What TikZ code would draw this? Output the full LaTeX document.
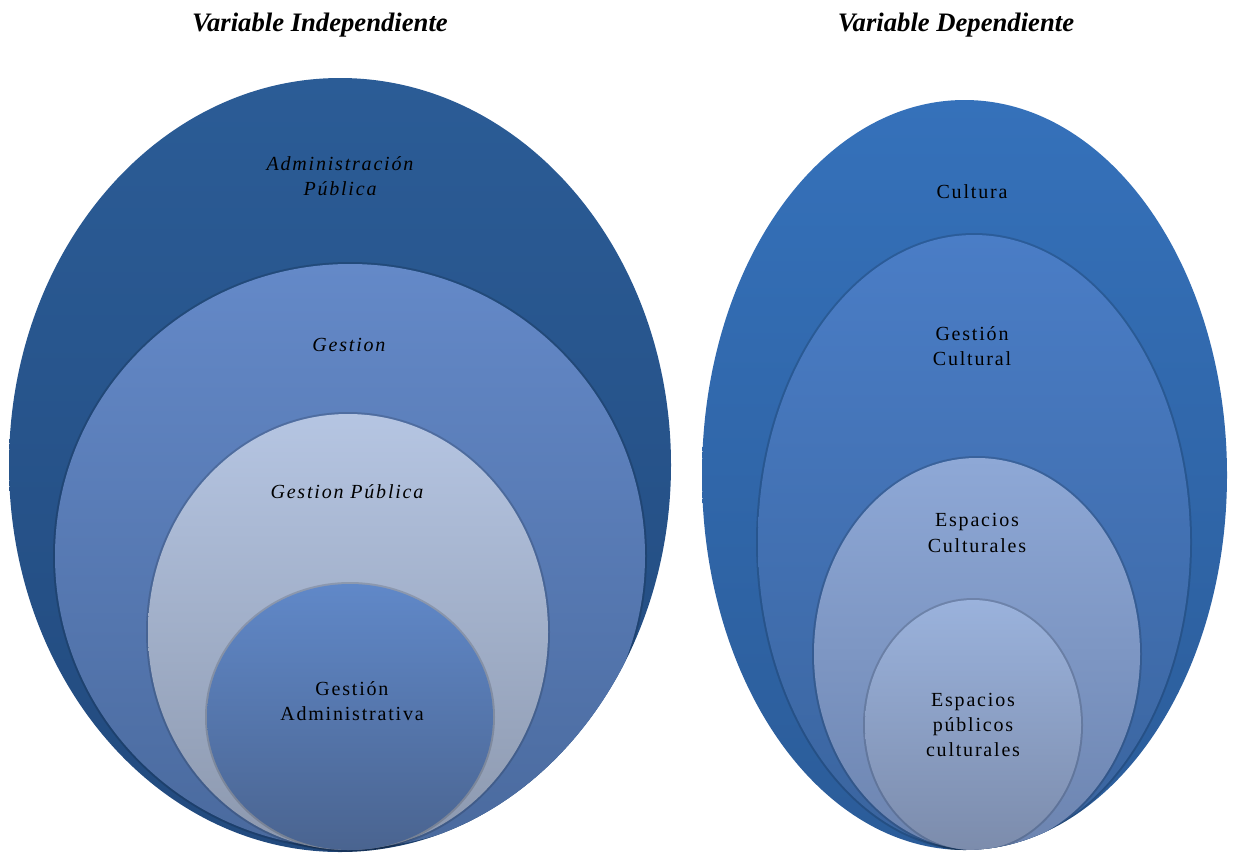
\documentclass[tikz,border=0pt]{standalone}
\usepackage{fontspec}
\setmainfont{Liberation Serif}
\newfontfamily\spaced[LetterSpace=9]{Liberation Serif}
\definecolor{admT}{HTML}{2B5C96}\definecolor{admB}{HTML}{224A7E}
\definecolor{gesT}{HTML}{6489C8}\definecolor{gesB}{HTML}{4A6A9E}
\definecolor{gpuT}{HTML}{B5C5E2}\definecolor{gpuB}{HTML}{8C98AE}
\definecolor{gadT}{HTML}{6088C8}\definecolor{gadB}{HTML}{4A6490}
\definecolor{culT}{HTML}{3571BA}\definecolor{culB}{HTML}{2B5C99}
\definecolor{gcuT}{HTML}{4A7DC6}\definecolor{gcuB}{HTML}{3A649E}
\definecolor{escT}{HTML}{8EA8D6}\definecolor{escB}{HTML}{6C84B0}
\definecolor{epcT}{HTML}{9AB2DC}\definecolor{epcB}{HTML}{7C8CAC}
\tikzset{
  lbl/.style={align=center, text=black, inner sep=0pt, font=\spaced\fontsize{15}{19}\selectfont},
  ttl/.style={font=\fontsize{20}{24}\selectfont\bfseries\itshape, inner sep=0pt},
  rim/.style={black, opacity=0.15, line width=3pt}
}
\begin{document}
\begin{tikzpicture}[x=0.75pt, y=-0.75pt, line join=round]
\useasboundingbox (0,0) rectangle (1242,854);
% left set
\shade[top color=admT, bottom color=admB] (340,465) ellipse (331 and 387);
\begin{scope}
\clip (340,465) ellipse (331 and 387);
\foreach \x\y\a\b\t\u in {350/556/295/292/gesT/gesB,
  348/632/200/218/gpuT/gpuB, 350/717/143/133/gadT/gadB}
{
  \draw[rim] (\x,\y) ellipse ({\a} and {\b});
  \shade[top color=\t, bottom color=\u] (\x,\y) ellipse ({\a} and {\b});
}
\end{scope}
% right set
\shade[top color=culT, bottom color=culB] (964.5,475) ellipse (262.5 and 375);
\begin{scope}
\clip (964.5,475) ellipse (262.5 and 375);
\foreach \x\y\a\b\t\u in {974/542/216/307/gcuT/gcuB,
  977/654/163/196/escT/escB, 973/725/108/125/epcT/epcB}
{
  \draw[rim] (\x,\y) ellipse ({\a} and {\b});
  \shade[top color=\t, bottom color=\u] (\x,\y) ellipse ({\a} and {\b});
}
\end{scope}
% titles
\node[ttl] (indep) at (320,25) {Variable Independiente};
\node[ttl] (dep) at (956,25) {Variable Dependiente};
% left labels
\node[lbl] (adm) at (340,176) {\itshape Administración\\\itshape Pública};
\node[lbl] (ges) at (349,345) {\itshape Gestion};
\node[lbl] (gpu) at (347,492) {\itshape Gestion Pública};
\node[lbl] (gad) at (352,701) {Gestión\\Administrativa};
% right labels
\node[lbl] (cul) at (972,192) {Cultura};
\node[lbl] (gcu) at (972,346) {Gestión\\Cultural};
\node[lbl] (esc) at (977,533) {Espacios\\Culturales};
\node[lbl] (epc) at (973,725) {Espacios\\públicos\\culturales};
\end{tikzpicture}
\end{document}
